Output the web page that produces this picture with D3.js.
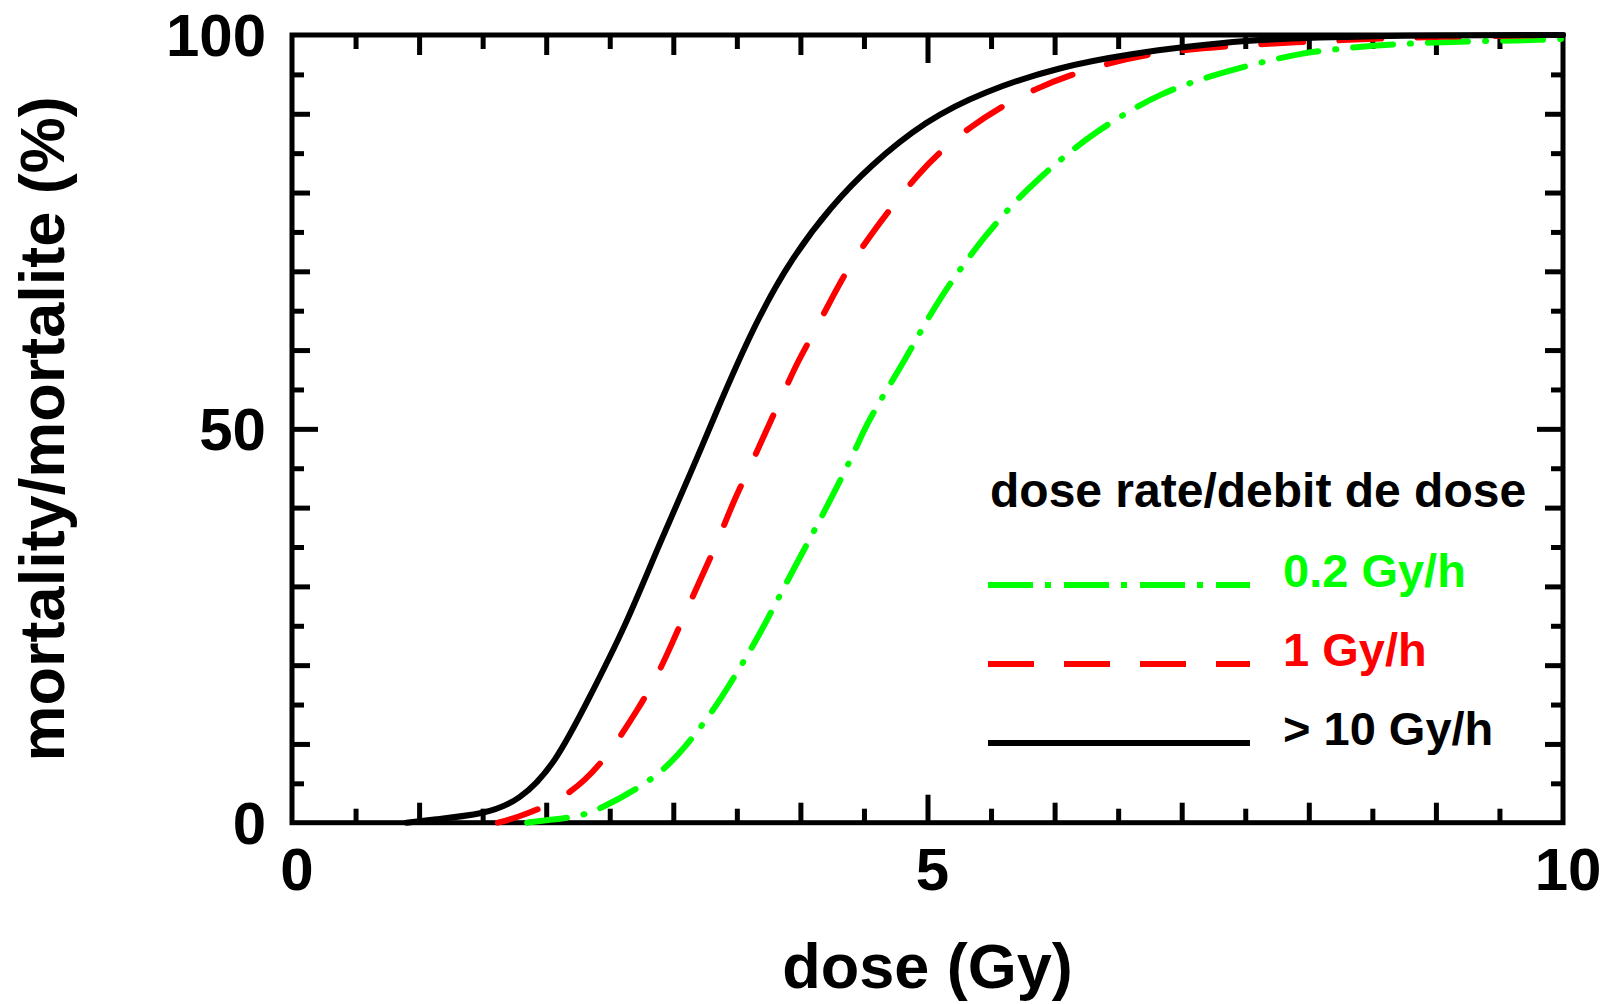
<!DOCTYPE html>
<html>
<head>
<meta charset="utf-8">
<script src="https://cdn.jsdelivr.net/npm/d3@7"></script>
<style>
  body { margin: 0; background: #fff; }
  text { font-family: "Liberation Sans", Arial, sans-serif; font-weight: bold; }
</style>
</head>
<body>
<svg id="chart"></svg>
<script>
// curves: dose (Gy) -> mortality (%)
const doseBlack = [0.9, 1.10, 1.51, 1.79, 2.07, 2.34, 2.62, 2.89, 3.17, 3.31, 3.64, 3.94, 4.24, 4.54, 4.99, 5.44, 6.04, 6.64, 7.03, 7.5, 8.0, 9.0, 10];
const mortBlack = [0, 0.4, 1.05, 2.75, 7.4, 15.9, 24.8, 35.4, 45.6, 51.1, 63.4, 71.9, 78.2, 83.3, 89.2, 92.8, 96.0, 97.7, 98.5, 99.3, 99.7, 100, 100];

const doseRed = [1.62, 1.76, 2.07, 2.31, 2.51, 2.73, 2.87, 3.00, 3.11, 3.24, 3.36, 3.47, 3.60, 3.72, 3.85, 3.97, 4.11, 4.26, 4.39, 4.57, 4.74, 4.93, 5.10, 5.34, 5.58, 5.85, 6.12, 6.42, 6.75, 7.4, 8.3, 9.0, 10];
const mortRed = [0, 0.6, 2.5, 5.3, 9.1, 14.6, 18.5, 23.1, 27.2, 31.8, 36.1, 40.7, 45.0, 49.4, 53.9, 58.3, 62.3, 67.0, 70.8, 75.0, 78.6, 82.4, 85.2, 88.4, 90.9, 93.2, 94.9, 96.4, 97.7, 98.7, 99.4, 99.8, 100];

const doseGreen = [1.85, 1.98, 2.23, 2.40, 2.81, 3.03, 3.31, 3.54, 3.69, 3.90, 4.11, 4.25, 4.45, 4.50, 4.66, 4.80, 4.96, 5.10, 5.28, 5.44, 5.65, 5.85, 6.09, 6.31, 6.58, 6.82, 7.12, 7.54, 7.93, 8.32, 8.72, 9.24, 9.90, 10];
const mortGreen = [0, 0.3, 0.7, 1.5, 5.1, 8.3, 14.0, 20.1, 24.2, 30.8, 37.1, 41.4, 47.9, 49.9, 54.5, 58.1, 62.8, 66.6, 70.8, 74.2, 78.2, 81.4, 84.8, 87.5, 90.3, 92.4, 94.3, 96.2, 97.7, 98.4, 98.9, 99.2, 99.4, 99.5];

const seriesNames = ["0.2 Gy/h", "1 Gy/h", "> 10 Gy/h"];
const xTickLabels = [0, 5, 10];
const yTickLabels = [0, 50, 100];

const width = 1613, height = 1004;
const plotLeft = 292, plotRight = 1563, plotTop = 35, plotBottom = 822.7;

const svg = d3.select("#chart")
    .attr("width", width)
    .attr("height", height);

const x = d3.scaleLinear().domain([0, 10]).range([plotLeft, plotRight]);
const y = d3.scaleLinear().domain([0, 100]).range([plotBottom, plotTop]);

// tick sets: halves, integers, fives (x) / fives, tens, fifties (y)
const xHalf = d3.range(0.5, 10, 1);
const xInt = d3.range(1, 10).filter(d => d !== 5);
const xFive = [5];
const yFive = d3.range(5, 100, 10);
const yTen = d3.range(10, 100, 10).filter(d => d !== 50);
const yFifty = [50];

function ticks(axisFn, scale, values, size, tx, ty) {
    const g = svg.append("g")
        .attr("transform", `translate(${tx},${ty})`)
        .call(axisFn(scale).tickValues(values).tickSize(-size).tickFormat(""));
    g.select(".domain").remove();
    g.selectAll("line").attr("stroke", "#000").attr("stroke-width", 5);
}

[[xHalf, 14], [xInt, 20], [xFive, 28]].forEach(([v, s]) => {
    ticks(d3.axisBottom, x, v, s, 0, plotBottom);
    ticks(d3.axisTop, x, v, s, 0, plotTop);
});
[[yFive, 12], [yTen, 18], [yFifty, 26]].forEach(([v, s]) => {
    ticks(d3.axisLeft, y, v, s, plotLeft, 0);
    ticks(d3.axisRight, y, v, s, plotRight, 0);
});

// frame
svg.append("rect")
    .attr("x", plotLeft).attr("y", plotTop)
    .attr("width", plotRight - plotLeft).attr("height", plotBottom - plotTop)
    .attr("fill", "none").attr("stroke", "#000").attr("stroke-width", 5);

// tick labels
svg.selectAll(".xlab").data(xTickLabels).enter().append("text")
    .attr("x", d => x(d) + 5).attr("y", 890)
    .attr("text-anchor", "middle").attr("font-size", 60)
    .text(d => d);
svg.selectAll(".ylab").data(yTickLabels).enter().append("text")
    .attr("x", 266).attr("y", d => y(d) + 21)
    .attr("text-anchor", "end").attr("font-size", 60)
    .text(d => d);

// axis titles
svg.append("text")
    .attr("x", (plotLeft + plotRight) / 2).attr("y", 988)
    .attr("text-anchor", "middle").attr("font-size", 63)
    .text("dose (Gy)");
svg.append("text")
    .attr("transform", `translate(64,${(plotTop + plotBottom) / 2}) rotate(-90)`)
    .attr("text-anchor", "middle").attr("font-size", 63)
    .text("mortality/mortalite (%)");

// curves
const line = d3.line()
    .x(d => x(d[0]))
    .y(d => y(d[1]))
    .curve(d3.curveBasis);

const styles = [
    { color: "#00ff00", dash: "40 17 1 17", legendDash: "45 12 6 13" },
    { color: "#ff0000", dash: "42 36", legendDash: "46 30" },
    { color: "#000000", dash: null, legendDash: null }
];
const curves = [
    d3.zip(doseGreen, mortGreen),
    d3.zip(doseRed, mortRed),
    d3.zip(doseBlack, mortBlack)
];

curves.forEach((pts, i) => {
    svg.append("path")
        .datum(pts)
        .attr("d", line)
        .attr("fill", "none")
        .attr("stroke", styles[i].color)
        .attr("stroke-width", 6)
        .attr("stroke-linecap", "round")
        .attr("stroke-dasharray", styles[i].dash);
});

// legend
svg.append("text")
    .attr("x", 990).attr("y", 507)
    .attr("font-size", 48)
    .text("dose rate/debit de dose");

const legendY = [585, 664, 743];
seriesNames.forEach((name, i) => {
    svg.append("line")
        .attr("x1", 988).attr("x2", 1250)
        .attr("y1", legendY[i]).attr("y2", legendY[i])
        .attr("stroke", styles[i].color)
        .attr("stroke-width", 6)
        .attr("stroke-dasharray", styles[i].legendDash);
    svg.append("text")
        .attr("x", 1283).attr("y", legendY[i] + 2)
        .attr("font-size", 47)
        .attr("fill", i === 2 ? "#000" : styles[i].color)
        .text(name);
});
</script>
</body>
</html>
